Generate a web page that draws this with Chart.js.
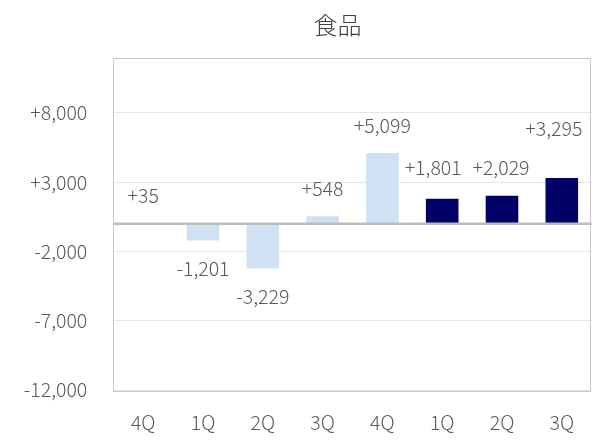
<!DOCTYPE html>
<html>
<head>
<meta charset="utf-8">
<script src="https://cdn.jsdelivr.net/npm/chart.js@4/dist/chart.umd.min.js"></script>
<style>
html,body{margin:0;padding:0;background:#fff;}
#wrap{width:603px;height:447px;position:relative;}
</style>
</head>
<body>
<div id="wrap"><canvas id="c" width="603" height="447"></canvas></div>
<script>
const title = "食品";
const categories = ["4Q","1Q","2Q","3Q","4Q","1Q","2Q","3Q"];
const values = [35, -1201, -3229, 548, 5099, 1801, 2029, 3295];
const barColors = ["#CFE1F2","#CFE1F2","#CFE1F2","#CFE1F2","#CFE1F2","#000066","#000066","#000066"];
const yTicks = [-12000, -7000, -2000, 3000, 8000];
const yMin = -12000, yMax = 12000;

// label nudges (style only): extra x shift and extra distance from bar end
const labelDx = [0, 0, 0, 0, 0, -9, -1, -8];
const labelDy = [0, 0, 0, 0, 0, 3, 0, 22];

const FONT = "'Noto Sans CJK JP', 'Noto Sans', sans-serif";
const TXT = "#595959";
const FS = 19.5;

function fmt(v){
  const s = Math.abs(v).toLocaleString('en-US');
  return (v > 0 ? "+" : v < 0 ? "-" : "") + s;
}

const deco = {
  id: 'deco',
  beforeDatasetsDraw(chart){
    const {ctx, chartArea:a} = chart;
    ctx.save();
    ctx.strokeStyle = "#C9C9C9";
    ctx.lineWidth = 1;
    ctx.strokeRect(Math.round(a.left)+0.5, Math.round(a.top)+0.5, Math.round(a.right-a.left)-1, Math.round(a.bottom-a.top));
    ctx.restore();
  },
  afterDatasetsDraw(chart){
    const {ctx, chartArea:a, scales} = chart;
    const y0 = scales.y.getPixelForValue(0);
    ctx.save();
    ctx.strokeStyle = "#BDBDBD";
    ctx.lineWidth = 2.5;
    ctx.beginPath();
    ctx.moveTo(a.left, y0);
    ctx.lineTo(a.right, y0);
    ctx.stroke();
    const meta = chart.getDatasetMeta(0);
    ctx.font = "300 " + FS + "px " + FONT;
    ctx.fillStyle = TXT;
    ctx.textAlign = "center";
    ctx.textBaseline = "middle";
    meta.data.forEach((bar, i) => {
      const v = values[i];
      const off = 28 + labelDy[i];
      const y = v >= 0 ? bar.y - off : bar.y + off;
      ctx.fillText(fmt(v), bar.x + labelDx[i], y);
    });
    ctx.font = "300 24px " + FONT;
    ctx.fillStyle = "#404040";
    ctx.fillText(title, 337.5, 25);
    ctx.restore();
  }
};

new Chart(document.getElementById('c'), {
  type: 'bar',
  data: {
    labels: categories,
    datasets: [{
      data: values,
      backgroundColor: barColors,
      borderWidth: 0,
      categoryPercentage: 1,
      barPercentage: 0.545
    }]
  },
  options: {
    responsive: false,
    animation: false,
    devicePixelRatio: 1,
    layout: { padding: { left: 0, right: 11.3, top: 57.5, bottom: 0 } },
    plugins: { legend: { display: false }, tooltip: { enabled: false }, title: { display: false } },
    scales: {
      x: {
        grid: { display: false, drawTicks: false },
        border: { display: false },
        ticks: { color: TXT, font: { family: FONT, size: FS, weight: 300 }, padding: 21, maxRotation: 0 },
        afterFit(s){ s.height = 57; }
      },
      y: {
        min: yMin, max: yMax,
        afterBuildTicks(s){ s.ticks = yTicks.map(v => ({value: v})); },
        grid: { color: "#E6E6E6", lineWidth: 1, drawTicks: false },
        border: { display: false },
        ticks: { color: TXT, font: { family: FONT, size: FS, weight: 300 }, padding: 26, callback: v => fmt(v) },
        afterFit(s){ s.width = 113.3; }
      }
    }
  },
  plugins: [deco]
});
</script>
</body>
</html>
